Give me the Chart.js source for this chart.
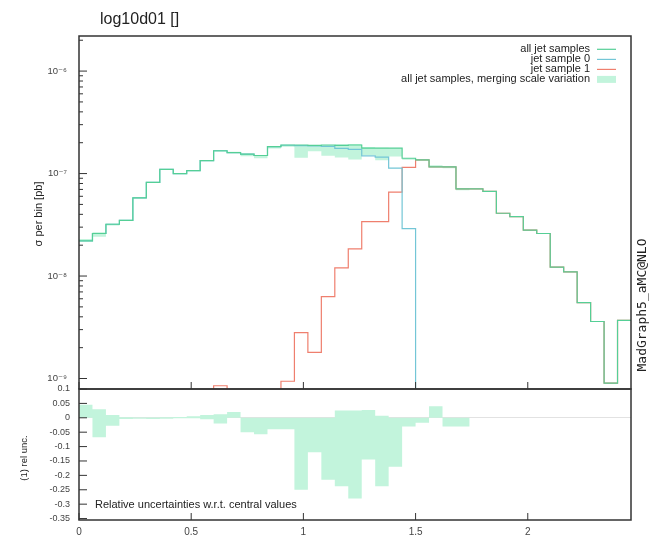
<!DOCTYPE html>
<html>
<head>
<meta charset="utf-8">
<script src="https://cdn.jsdelivr.net/npm/chart.js@4.4.0/dist/chart.umd.min.js"></script>
<style>
    html, body { margin: 0; padding: 0; background: #fff; }
    #wrap { position: relative; width: 650px; height: 535px; overflow: hidden; }
    #wrap canvas { position: absolute; left: 0; }
    #topChart { top: 0; }
    #bottomChart { top: 385px; }
</style>
</head>
<body>
<div id="wrap">
    <canvas id="topChart" width="650" height="391"></canvas>
    <canvas id="bottomChart" width="650" height="150"></canvas>
</div>
<script>
// Bin edges of the histogram (41 bins)
const binEdges = [0, 0.06, 0.12, 0.18, 0.24, 0.30, 0.36, 0.42, 0.48, 0.54, 0.60,
    0.66, 0.72, 0.78, 0.84, 0.90, 0.96, 1.02, 1.08, 1.14, 1.20,
    1.26, 1.32, 1.38, 1.44, 1.50, 1.56, 1.62, 1.68, 1.74, 1.80,
    1.86, 1.92, 1.98, 2.04, 2.10, 2.16, 2.22, 2.28, 2.34, 2.40, 2.46];

// sigma per bin [pb]
const allJets = [2.2e-8, 2.6e-8, 3.2e-8, 3.5e-8, 5.8e-8, 8.2e-8, 1.1e-7, 1.0e-7, 1.07e-7, 1.34e-7,
    1.67e-7, 1.6e-7, 1.55e-7, 1.5e-7, 1.83e-7, 1.9e-7, 1.9e-7, 1.88e-7, 1.9e-7, 1.88e-7,
    1.9e-7, 1.77e-7, 1.77e-7, 1.77e-7, 1.41e-7, 1.36e-7, 1.16e-7, 1.16e-7, 7.1e-8, 7.1e-8,
    6.7e-8, 4.1e-8, 3.8e-8, 2.8e-8, 2.6e-8, 1.22e-8, 1.1e-8, 5.5e-9, 3.6e-9, 9e-10, 3.7e-9];
const jetSample0 = [2.2e-8, 2.6e-8, 3.2e-8, 3.5e-8, 5.8e-8, 8.2e-8, 1.1e-7, 1.0e-7, 1.07e-7, 1.34e-7,
    1.67e-7, 1.6e-7, 1.55e-7, 1.5e-7, 1.83e-7, 1.89e-7, 1.87e-7, 1.86e-7, 1.84e-7, 1.76e-7,
    1.72e-7, 1.49e-7, 1.45e-7, 1.13e-7, 2.9e-8, 0, 0, 0, 0, 0,
    0, 0, 0, 0, 0, 0, 0, 0, 0, 0, 0];
const jetSample1 = [0, 0, 0, 0, 0, 0, 0, 0, 0, 0,
    8.5e-10, 0, 0, 0, 0, 9.4e-10, 2.8e-9, 1.8e-9, 6.3e-9, 1.2e-8,
    1.84e-8, 3.4e-8, 3.4e-8, 6.6e-8, 1.15e-7, 1.36e-7, 1.16e-7, 1.16e-7, 7.1e-8, 7.1e-8,
    6.7e-8, 4.1e-8, 3.8e-8, 2.8e-8, 2.6e-8, 1.22e-8, 1.1e-8, 5.5e-9, 3.6e-9, 9e-10, 3.7e-9];

// merging scale variation, relative to central values
const relUncUp = [0.045, 0.03, 0.01, 0.002, 0.001, 0.001, 0.002, 0.003, 0.005, 0.01,
    0.012, 0.02, 0, 0, 0, 0, 0, 0, 0, 0.025,
    0.025, 0.027, 0.007, 0, 0, 0, 0.04, 0, 0, 0,
    0, 0, 0, 0, 0, 0, 0, 0, 0, 0, 0];
const relUncDown = [0, -0.068, -0.028, -0.004, -0.003, -0.004, -0.003, -0.002, -0.002, -0.005,
    -0.02, 0, -0.05, -0.057, -0.04, -0.04, -0.25, -0.12, -0.215, -0.238,
    -0.28, -0.145, -0.238, -0.17, -0.03, -0.017, 0, -0.03, -0.03, 0,
    0, 0, 0, 0, 0, 0, 0, 0, 0, 0, 0];

const seriesNames = ['all jet samples', 'jet sample 0', 'jet sample 1',
    'all jet samples, merging scale variation'];
const xTickValues = [0, 0.5, 1, 1.5, 2];
const xTickLabels = ['0', '0.5', '1', '1.5', '2'];
const logTickValues = [1e-9, 1e-8, 1e-7, 1e-6];
const logTickLabels = ['10\u207B\u2079', '10\u207B\u2078', '10\u207B\u2077', '10\u207B\u2076'];
const ratioTickValues = [0.1, 0.05, 0, -0.05, -0.1, -0.15, -0.2, -0.25, -0.3, -0.35];
const ratioTickLabels = ['0.1', '0.05', '0', '-0.05', '-0.1', '-0.15', '-0.2', '-0.25', '-0.3', '-0.35'];

const COLORS = {
    all: '#55cf96',
    s0: '#73c6d6',
    s1: '#ef7f6e',
    band: '#c2f4dc',
    frame: '#333333',
    text: '#222222'
};
const FONT = '"Liberation Sans", Arial, "DejaVu Sans", sans-serif';
// empty bins can't sit on a log axis, push them far below the visible range
const LOG_FLOOR = 1e-12;

// Turn bin values into stepped points (last edge repeats the last bin)
function steps(values, floor) {
    return binEdges.map((x, i) => {
        const v = values[Math.min(i, values.length - 1)];
        return { x: x, y: (floor && v <= 0) ? floor : v };
    });
}

function line(ctx, x1, y1, x2, y2) {
    ctx.beginPath();
    ctx.moveTo(x1, y1);
    ctx.lineTo(x2, y2);
    ctx.stroke();
}

// Frame around the plot area plus gnuplot-like inner ticks
const framePlugin = {
    id: 'frame',
    afterDraw(chart, args, opts) {
        const { ctx, chartArea: a } = chart;
        const xs = chart.scales.x;
        const ys = chart.scales.y;
        ctx.save();
        ctx.strokeStyle = COLORS.frame;
        ctx.lineWidth = 1;
        xTickValues.forEach(v => {
            const px = xs.getPixelForValue(v);
            line(ctx, px, a.bottom, px, a.bottom - 7);
        });
        ys.ticks.forEach(t => {
            const py = ys.getPixelForValue(t.value);
            line(ctx, a.left, py, a.left + (t.big ? 8 : 4), py);
        });
        ctx.lineWidth = 1.5;
        ctx.strokeRect(a.left, a.top, a.right - a.left, a.bottom - a.top);

        // x tick labels under the lower panel
        if (opts.xLabels) {
            ctx.fillStyle = '#444';
            ctx.font = '10px ' + FONT;
            ctx.textAlign = 'center';
            ctx.textBaseline = 'middle';
            xTickValues.forEach((v, i) => {
                ctx.fillText(xTickLabels[i], xs.getPixelForValue(v), a.bottom + 12);
            });
        }
        ctx.restore();
    }
};

function drawRotated(ctx, text, x, y, font) {
    ctx.save();
    ctx.translate(x, y);
    ctx.rotate(-Math.PI / 2);
    ctx.font = font;
    ctx.textAlign = 'center';
    ctx.textBaseline = 'middle';
    ctx.fillText(text, 0, 0);
    ctx.restore();
}

// Title, axis label, legend and generator tag of the upper panel
const topTextPlugin = {
    id: 'topText',
    afterDraw(chart) {
        const ctx = chart.ctx;
        ctx.save();
        ctx.fillStyle = COLORS.text;
        ctx.font = '16px ' + FONT;
        ctx.textAlign = 'left';
        ctx.textBaseline = 'middle';
        ctx.fillText('log10d01 []', 100, 20);

        drawRotated(ctx, '\u03C3 per bin [pb]', 39, 214, '11px ' + FONT);
        drawRotated(ctx, 'MadGraph5_aMC@NLO', 643, 305, '13px "DejaVu Sans Mono", "Liberation Mono", monospace');

        const rows = [49.3, 59.4, 69.4, 79.4];
        const styles = [COLORS.all, COLORS.s0, COLORS.s1, COLORS.band];
        ctx.font = '11px ' + FONT;
        ctx.textAlign = 'right';
        seriesNames.forEach((name, i) => {
            ctx.fillStyle = COLORS.text;
            ctx.fillText(name, 590, rows[i]);
            if (i < 3) {
                ctx.strokeStyle = styles[i];
                ctx.lineWidth = 1.2;
                line(ctx, 597, rows[i], 616, rows[i]);
            } else {
                ctx.fillStyle = styles[i];
                ctx.fillRect(597, rows[i] - 3.5, 19, 7);
            }
        });
        ctx.restore();
    }
};

const bottomTextPlugin = {
    id: 'bottomText',
    afterDraw(chart) {
        const ctx = chart.ctx;
        ctx.save();
        ctx.fillStyle = COLORS.text;
        drawRotated(ctx, '(1) rel unc.', 24, 73, '9.5px ' + FONT);
        ctx.font = '11px ' + FONT;
        ctx.textAlign = 'left';
        ctx.textBaseline = 'middle';
        ctx.fillText('Relative uncertainties w.r.t. central values', 95, 120);
        ctx.restore();
    }
};

function plainX(height) {
    return {
        type: 'linear',
        min: binEdges[0],
        max: binEdges[binEdges.length - 1],
        ticks: { display: false },
        grid: { display: false },
        border: { display: false },
        afterFit: s => {
            s.height = height;
            s.paddingLeft = 0;
            s.paddingRight = 0;
        }
    };
}

// keep the y axis box at a fixed width and stop it from padding the chart area
function fixY(s) {
    s.width = 79;
    s.paddingTop = 0;
    s.paddingBottom = 0;
}

// Upper panel: cross sections on a log scale
const bandUp = allJets.map((v, i) => v * (1 + relUncUp[i]));
const bandDown = allJets.map((v, i) => v * (1 + relUncDown[i]));

new Chart(document.getElementById('topChart'), {
    type: 'line',
    data: {
        datasets: [
            { label: seriesNames[0], data: steps(allJets, LOG_FLOOR), borderColor: COLORS.all, order: 0 },
            { label: seriesNames[1], data: steps(jetSample0, LOG_FLOOR), borderColor: COLORS.s0, order: 1 },
            { label: seriesNames[2], data: steps(jetSample1, LOG_FLOOR), borderColor: COLORS.s1, order: 2 },
            { label: 'band up', data: steps(bandUp, LOG_FLOOR), borderWidth: 0, borderColor: 'rgba(0,0,0,0)', order: 3 },
            { label: seriesNames[3], data: steps(bandDown, LOG_FLOOR), borderWidth: 0, borderColor: 'rgba(0,0,0,0)',
              backgroundColor: COLORS.band, fill: '-1', order: 4 }
        ]
    },
    options: {
        responsive: false,
        animation: false,
        layout: { autoPadding: false, padding: { top: 36, right: 19, bottom: 2, left: 0 } },
        elements: {
            line: { stepped: 'before', borderWidth: 1.2, tension: 0 },
            point: { radius: 0 }
        },
        plugins: { legend: { display: false }, tooltip: { enabled: false } },
        scales: {
            x: plainX(0),
            y: {
                type: 'logarithmic',
                min: 7.9e-10,
                max: 2.2e-6,
                grid: { display: false },
                border: { display: false },
                afterBuildTicks: scale => {
                    const ticks = [];
                    logTickValues.forEach(v => {
                        for (let m = 1; m <= 9; m++) ticks.push({ value: v * m, big: m === 1 });
                    });
                    scale.ticks = ticks.filter(t => t.value <= scale.max);
                },
                ticks: {
                    padding: 4,
                    color: '#444',
                    font: { size: 9.5, family: FONT },
                    autoSkip: false,
                    callback: (value) => {
                        const i = logTickValues.findIndex(v => Math.abs(v - value) / v < 1e-6);
                        return i >= 0 ? logTickLabels[i] : '';
                    }
                },
                afterFit: fixY
            }
        }
    },
    plugins: [framePlugin, topTextPlugin]
});

// Lower panel: relative uncertainty of the merging scale variation
new Chart(document.getElementById('bottomChart'), {
    type: 'line',
    data: {
        datasets: [
            { label: 'unc up', data: steps(relUncUp), borderWidth: 0, borderColor: 'rgba(0,0,0,0)', order: 0 },
            { label: 'unc down', data: steps(relUncDown), borderWidth: 0, borderColor: 'rgba(0,0,0,0)',
              backgroundColor: COLORS.band, fill: '-1', order: 1 }
        ]
    },
    options: {
        responsive: false,
        animation: false,
        layout: { autoPadding: false, padding: { top: 4, right: 19, bottom: 0, left: 0 } },
        elements: {
            line: { stepped: 'before', tension: 0 },
            point: { radius: 0 }
        },
        plugins: {
            legend: { display: false },
            tooltip: { enabled: false },
            frame: { xLabels: true }
        },
        scales: {
            x: plainX(15),
            y: {
                type: 'linear',
                min: -0.355,
                max: 0.1,
                border: { display: false },
                grid: {
                    drawTicks: false,
                    color: c => (c.tick && c.tick.value === 0) ? '#e2e2e2' : 'rgba(0,0,0,0)'
                },
                afterBuildTicks: scale => {
                    scale.ticks = ratioTickValues.map(v => ({ value: v, big: true }));
                },
                ticks: {
                    padding: 9,
                    color: '#444',
                    autoSkip: false,
                    font: { size: 9, family: FONT },
                    callback: (value) => {
                        const i = ratioTickValues.findIndex(v => Math.abs(v - value) < 1e-9);
                        return i >= 0 ? ratioTickLabels[i] : '';
                    }
                },
                afterFit: fixY
            }
        }
    },
    plugins: [framePlugin, bottomTextPlugin]
});
</script>
</body>
</html>
